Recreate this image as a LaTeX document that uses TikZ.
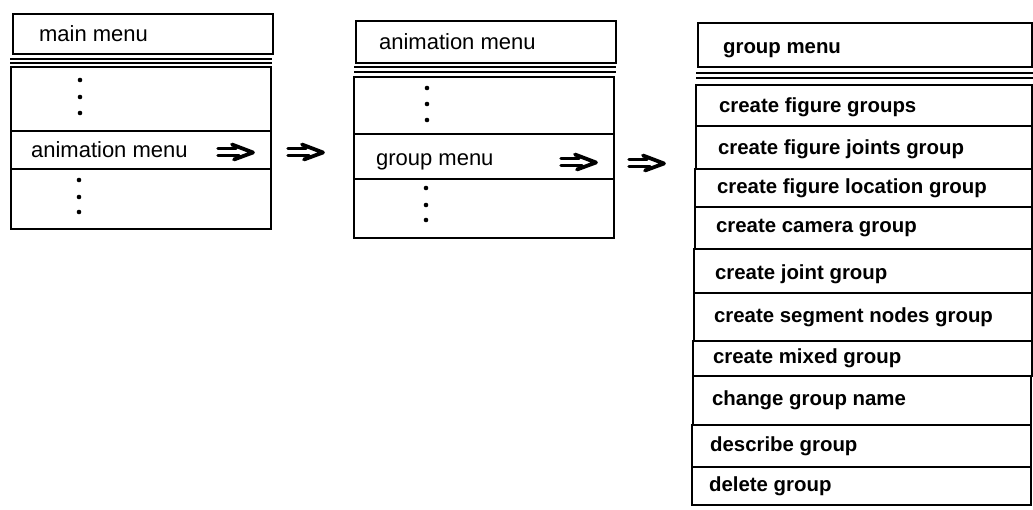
\documentclass[tikz,border=0pt]{standalone}
\usepackage{fontspec}
\setmainfont{Liberation Sans}
\newfontfamily\rightfont{Liberation Sans Bold}
\begin{document}
\begin{tikzpicture}[x=1pt,y=-1pt,
  frame/.style={draw, line width=2.2pt, anchor=north west, inner xsep=0pt, inner ysep=0pt, font=\fontsize{22}{26}\selectfont},
  rframe/.style={frame, font=\rightfont\fontsize{20.4}{25}\selectfont},
  sepline/.style={line width=2pt},
  menudot/.style={fill=black},
  dblarr/.pic={
    \draw[line width=3.2pt, line cap=round] (1,-3.2)--(19,-3.2) (1,3.2)--(22,3.2);
    \draw[line width=3.8pt, line cap=round, line join=round] (15,-7.5)--(36,0.5)--(17,7.5);
  }]
\useasboundingbox (0,0) rectangle (1033,510);
\newcommand\menuitem[8][frame]{%
  \node[#1, minimum width={#5-#3}, minimum height={#6-#4}] (#2) at (#3,#4)
    {\makebox[\dimexpr #5pt-#3pt\relax][l]{\hspace{#7pt}#8}};}
\newcommand\lowered[2]{\raisebox{-#1pt}[\height][\depth]{#2}}
% ---- main menu
\menuitem{mtitle}{12}{13}{272}{53}{26}{main menu}
\draw[sepline] (10,59) -- (272,59) (10,63.5) -- (272,63.5);
\menuitem{mtop}{10}{66}{270}{130}{0}{}
\menuitem{manim}{10}{130}{270}{168}{20}{animation menu}
\menuitem{mbot}{10}{168}{270}{228}{0}{}
\foreach \yy in {80,97,113} \fill[menudot] (80,\yy) circle[radius=2.3pt];
\foreach \yy in {180,197,212} \fill[menudot] (79,\yy) circle[radius=2.3pt];
\pic at (217,152) {dblarr};
\pic at (287,152) {dblarr};
% ---- animation menu
\menuitem{atitle}{355}{20}{615}{62}{23}{animation menu}
\draw[sepline] (354,67) -- (616,67) (354,72) -- (616,72);
\menuitem{atop}{353}{76}{613}{133}{0}{}
\menuitem{agroup}{353}{133}{613}{178}{22}{\lowered{5}{group menu}}
\menuitem{abot}{353}{178}{613}{237}{0}{}
\foreach \yy in {88,104,120} \fill[menudot] (427,\yy) circle[radius=2.3pt];
\foreach \yy in {188,205,220} \fill[menudot] (426,\yy) circle[radius=2.3pt];
\pic at (560,162) {dblarr};
\pic at (628,163) {dblarr};
% ---- group menu
\menuitem[rframe]{gtitle}{697}{22}{1031}{66}{25}{\lowered{5}{group menu}}
\draw[sepline] (696,73) -- (1033,73) (696,78) -- (1033,78);
\menuitem[rframe]{g1}{695}{84}{1031}{125}{23}{\lowered{2}{create figure groups}}
\menuitem[rframe]{g2}{695}{125}{1031}{168}{22}{\lowered{2}{create figure joints group}}
\menuitem[rframe]{g3}{694}{168}{1031}{206}{22}{create figure location group}
\menuitem[rframe]{g4}{694}{206}{1031}{248}{21}{create camera group}
\menuitem[rframe]{g5}{693}{248}{1031}{292}{21}{\lowered{3}{create joint group}}
\menuitem[rframe]{g6}{693}{292}{1031}{340}{20}{create segment nodes group}
\menuitem[rframe]{g7}{692}{340}{1031}{375}{20}{create mixed group}
\menuitem[rframe]{g8}{692}{375}{1030}{424}{19}{change group name}
\menuitem[rframe]{g9}{691}{424}{1030}{466}{18}{describe group}
\menuitem[rframe]{g10}{691}{466}{1030}{504}{17}{delete group}
\end{tikzpicture}
\end{document}
